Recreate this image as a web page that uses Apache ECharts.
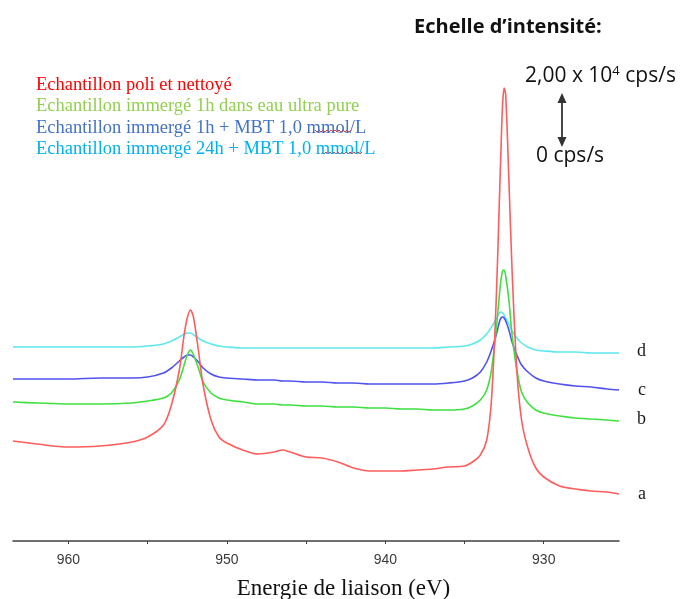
<!DOCTYPE html>
<html>
<head>
<meta charset="utf-8">
<script src="https://cdn.jsdelivr.net/npm/echarts@6/dist/echarts.min.js"></script>
<style>html,body{margin:0;padding:0;background:#fff}#c{width:683px;height:599px}</style>
</head>
<body>
<div id="c"></div>
<script>
// Binding energy (eV), shared by all spectra
const energies = [963.5, 962, 960, 958, 956, 955, 954, 953.5, 953, 952.7, 952.5, 952.3, 952.1, 951.8, 951.5, 951, 950.5, 950, 949, 948, 947, 946.5, 946, 945, 944, 943, 942, 941, 940, 939, 938, 937, 936, 935, 934.5, 934, 933.6, 933.3, 933, 932.8, 932.7, 932.6, 932.5, 932.4, 932.2, 932, 931.7, 931.4, 931, 930.5, 930, 929, 928, 927, 926, 925.25];
// Intensities (arbitrary units, offset spectra; 53 a.u. = 2,00 x 10^4 cps/s)
const intensityA = [100, 97, 94, 95, 99, 104, 116, 136, 171, 206, 223, 231, 223, 191, 156, 121, 104, 98, 91, 87, 89, 91, 89, 84, 83, 79, 73, 70, 70, 70, 71, 72, 74, 75, 79, 86, 101, 141, 241, 341, 391, 436, 453, 446, 361, 271, 171, 121, 93, 73, 64, 55, 52, 50, 49, 47];
const intensityB = [139, 138, 137, 137, 138, 140, 143, 148, 161, 176, 186, 191, 186, 173, 159, 148, 143, 141, 139, 137, 137, 136, 136, 135, 135, 134, 134, 133, 133, 132, 132, 131, 131, 132, 135, 141, 151, 171, 211, 246, 261, 270, 271, 265, 241, 206, 171, 149, 138, 131, 128, 125, 123, 122, 121, 120];
const intensityC = [162, 162, 162, 163, 163, 164, 168, 173, 180, 184, 186, 186, 184, 179, 173, 167, 164, 163, 162, 161, 161, 160, 160, 159, 159, 158, 158, 157, 157, 157, 157, 157, 158, 160, 163, 169, 179, 191, 206, 219, 223, 224, 223, 220, 211, 199, 186, 176, 169, 163, 160, 157, 155, 154, 152, 151];
const intensityD = [194, 194, 194, 194, 194, 195, 197, 200, 204, 207, 208, 208, 206, 203, 200, 197, 195, 194, 193, 193, 193, 193, 193, 193, 193, 193, 193, 193, 193, 193, 193, 193, 194, 195, 197, 201, 207, 214, 222, 228, 229, 228, 226, 223, 217, 210, 203, 198, 194, 191, 190, 189, 189, 188, 188, 188];
const seriesNames = ['Echantillon poli et nettoyé', 'Echantillon immergé 1h dans eau ultra pure', 'Echantillon immergé 1h + MBT 1,0 mmol/L', 'Echantillon immergé 24h + MBT 1,0 mmol/L'];
const curveLabels = ['a', 'b', 'c', 'd'];
const xLabelValues = [930, 940, 950, 960];
const xTickValues = [930, 935, 940, 945, 950, 955, 960];

const lineColors = ['#ff5c5c', '#3fe03f', '#5252ee', '#5ee8ee'];
const textColors = ['#ff0000', '#92d050', '#4472c4', '#00b0f0'];
const labelOffsets = [[45, 0], [45, -2], [45, 0], [45, -2]];
const allData = [intensityA, intensityB, intensityC, intensityD];

const chart = echarts.init(document.getElementById('c'), null, {renderer: 'canvas'});
const series = allData.map((vals, i) => ({
  name: seriesNames[i],
  type: 'line',
  data: energies.map((e, k) => [e, vals[k]]),
  showSymbol: false,
  smooth: 0.3,
  lineStyle: {color: lineColors[i], width: 1.6},
  itemStyle: {color: lineColors[i]},
  silent: true,
  z: 2 + (3 - i),
  endLabel: {
    show: true,
    formatter: curveLabels[i],
    distance: 18,
    offset: labelOffsets[i],
    color: '#1a1a1a',
    fontFamily: 'Liberation Serif',
    fontSize: 18
  }
}));

function squiggle(x0, x1, y) {
  const pts = [];
  let up = true;
  for (let x = x0; x <= x1; x += 2) { pts.push([x, up ? y - 1 : y + 1]); up = !up; }
  return {type: 'polyline', shape: {points: pts}, style: {stroke: '#e04040', lineWidth: 1, fill: null}, silent: true};
}

chart.setOption({
  animation: false,
  backgroundColor: '#ffffff',
  grid: {left: 13, right: 64, top: 41, bottom: 58, outerBoundsMode: 'none', containLabel: false},
  legend: {
    orient: 'vertical',
    left: 26,
    top: 69,
    itemGap: 0,
    itemWidth: 0,
    itemHeight: 0,
    icon: 'none',
    selectedMode: false,
    textStyle: {fontFamily: 'Liberation Serif', fontSize: 18.5, lineHeight: 21.5},
    data: seriesNames.map((n, i) => ({name: n, icon: 'none', textStyle: {color: textColors[i]}}))
  },
  xAxis: {
    type: 'value',
    inverse: true,
    min: 925.25,
    max: 963.5,
    name: 'Energie de liaison (eV)',
    nameLocation: 'middle',
    nameGap: 36,
    nameTextStyle: {fontFamily: 'Liberation Serif', fontSize: 23, color: '#111', padding: [0, 0, 0, 55]},
    splitLine: {show: false},
    axisLine: {lineStyle: {color: '#404040', width: 1.5}},
    axisTick: {show: true, length: 3, customValues: xTickValues, lineStyle: {color: '#404040'}},
    axisLabel: {customValues: xLabelValues, margin: 12, fontFamily: 'Liberation Sans', fontSize: 14, color: '#3a3a3a'}
  },
  yAxis: {
    type: 'value',
    min: 0,
    max: 500,
    show: false,
    splitLine: {show: false}
  },
  series: series,
  graphic: [
    {type: 'text', left: 414, top: 17, style: {text: "Echelle d\u2019intensité:", fontFamily: 'Open Sans', fontWeight: 'bold', fontSize: 20, fill: '#111'}},
    {type: 'text', left: 525, top: 65, style: {
      text: '{n|2,00 x 10}{s|4}{n| cps/s}',
      rich: {
        n: {fontFamily: 'Open Sans', fontSize: 21, fill: '#111', color: '#111'},
        s: {fontFamily: 'Open Sans', fontSize: 13, fill: '#111', color: '#111', verticalAlign: 'top', padding: [0, 0, 10, 0]}
      }
    }},
    {type: 'text', left: 536, top: 146, style: {text: '0 cps/s', fontFamily: 'Open Sans', fontSize: 21, fill: '#111'}},
    {type: 'line', shape: {x1: 562, y1: 100, x2: 562, y2: 140}, style: {stroke: '#333', lineWidth: 1.8}},
    {type: 'polygon', shape: {points: [[562, 93], [557.5, 103], [566.5, 103]]}, style: {fill: '#333'}},
    {type: 'polygon', shape: {points: [[562, 147], [557.5, 137], [566.5, 137]]}, style: {fill: '#333'}},
    squiggle(315, 352, 131),
    squiggle(322, 362, 153)
  ]
});
</script>
</body>
</html>
